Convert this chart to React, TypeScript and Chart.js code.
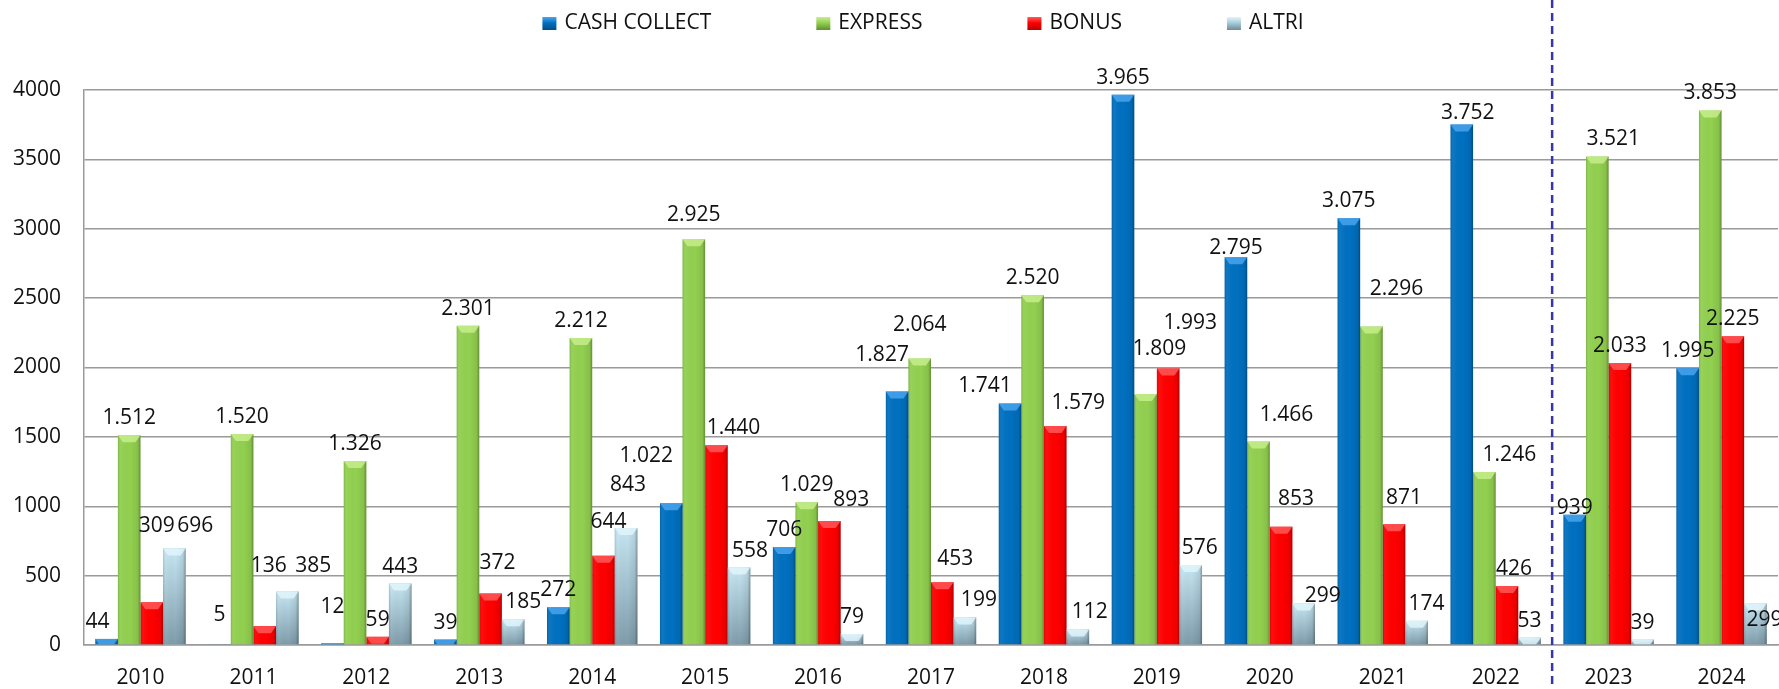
import React, { useEffect, useRef } from 'react';
import { Chart, registerables } from 'chart.js';

Chart.register(...registerables);

const years = ['2010', '2011', '2012', '2013', '2014', '2015', '2016', '2017', '2018', '2019', '2020', '2021', '2022', '2023', '2024'];
const seriesNames = ['CASH COLLECT', 'EXPRESS', 'BONUS', 'ALTRI'];
const cashCollect = [44, 5, 12, 39, 272, 1022, 706, 1827, 1741, 3965, 2795, 3075, 3752, 939, 1995];
const express = [1512, 1520, 1326, 2301, 2212, 2925, 1029, 2064, 2520, 1809, 1466, 2296, 1246, 3521, 3853];
const bonus = [309, 136, 59, 372, 644, 1440, 893, 453, 1579, 1993, 853, 871, 426, 2033, 2225];
const altri = [696, 385, 443, 185, 843, 558, 79, 199, 112, 576, 299, 174, 53, 39, 299];
const yMin = 0;
const yMax = 4000;
const yStep = 500;
const separatorBeforeIndex = 13; // dashed line between 2022 and 2023

// Label nudges (px) reproducing the hand-placed value labels of the original: "series:index" -> [dx, dy]
const labelNudges: Record<string, [number, number]> = {
  '0:0': [-9, 0], '2:0': [5, -59], '3:0': [21, -5],
  '0:1': [0, -12], '2:1': [4, -43], '3:1': [26, -9],
  '0:2': [0, -19],
  '2:3': [7, -13], '3:3': [10, 0],
  '2:4': [5, -17], '3:4': [2, -26],
  '0:5': [-25, -30], '1:5': [0, -7], '2:5': [17, 0], '3:5': [11, 0],
  '2:6': [22, -4],
  '0:7': [-15, -20], '1:7': [0, -17], '2:7': [13, -6], '3:7': [14, 0],
  '0:8': [-25, 0], '2:8': [23, -6], '3:8': [12, 0],
  '1:9': [14, -28], '2:9': [22, -28], '3:9': [9, 0],
  '0:10': [0, 8], '1:10': [28, -10], '2:10': [15, -11], '3:10': [19, 9],
  '1:11': [25, -20], '2:11': [10, -9], '3:11': [10, 0],
  '0:12': [6, 6], '1:12': [25, 0], '2:12': [7, 0],
  '0:13': [0, 10], '1:13': [16, 0],
  '3:14': [9, 33],
};

const FONT = "'Open Sans', 'Noto Sans', sans-serif";
const FONT_SIZE = 21;
const TEXT_COLOR = '#111111';

const palette = [
  { base: '#0070C0', light: '#4DA6F0', edge: '#004C86', top: '', bottom: '' },
  { base: '#92D050', light: '#C9F08E', edge: '#5F8F2E', top: '', bottom: '' },
  { base: '#FF0000', light: '#FF5C5C', edge: '#B80000', top: '', bottom: '' },
  { base: '#A9CBD9', light: '#E2F5FB', edge: '#6E8C9A', top: '#C6E7F3', bottom: '#7F9CAB' },
];

function fmt(v: number): string {
  return String(v).replace(/\B(?=(\d{3})+(?!\d))/g, '.');
}

const barShadePlugin = {
  id: 'barShade',
  afterDatasetsDraw(chart: any) {
    const ctx: CanvasRenderingContext2D = chart.ctx;
    chart.data.datasets.forEach((ds: any, di: number) => {
      const meta = chart.getDatasetMeta(di);
      const pal = palette[di];
      meta.data.forEach((bar: any) => {
        const { x, y, base, width } = bar.getProps(['x', 'y', 'base', 'width'], true);
        const l = x - width / 2;
        const r = x + width / 2;
        const t = Math.min(y, base);
        const b = Math.max(y, base);
        const h = b - t;
        if (h <= 0.2) return;
        ctx.save();
        if (pal.top) {
          const vg = ctx.createLinearGradient(0, t, 0, b);
          vg.addColorStop(0, pal.top);
          vg.addColorStop(1, pal.bottom);
          ctx.fillStyle = vg;
          ctx.fillRect(l, t, width, h);
        }
        const g = ctx.createLinearGradient(l, 0, r, 0);
        g.addColorStop(0, 'rgba(0,0,0,0.14)');
        g.addColorStop(0.12, 'rgba(255,255,255,0.05)');
        g.addColorStop(0.55, 'rgba(0,0,0,0)');
        g.addColorStop(0.88, 'rgba(0,0,0,0.08)');
        g.addColorStop(1, 'rgba(0,0,0,0.32)');
        ctx.fillStyle = g;
        ctx.fillRect(l, t, width, h);
        const bh = Math.min(7, h);
        const inset = Math.min(5, width / 4) * (bh / 7);
        ctx.beginPath();
        ctx.moveTo(l, t);
        ctx.lineTo(r, t);
        ctx.lineTo(r - inset, t + bh);
        ctx.lineTo(l + inset, t + bh);
        ctx.closePath();
        ctx.fillStyle = pal.light;
        ctx.globalAlpha = 0.8;
        ctx.fill();
        ctx.restore();
      });
    });
    // value labels
    ctx.save();
    ctx.font = `${FONT_SIZE}px ${FONT}`;
    ctx.fillStyle = TEXT_COLOR;
    ctx.textAlign = 'center';
    ctx.textBaseline = 'alphabetic';
    chart.data.datasets.forEach((ds: any, di: number) => {
      const meta = chart.getDatasetMeta(di);
      meta.data.forEach((bar: any, i: number) => {
        const { x, y } = bar.getProps(['x', 'y'], true);
        const [dx, dy] = labelNudges[`${di}:${i}`] || [0, 0];
        ctx.fillText(fmt(ds.data[i]), x + dx, y - 11 + dy);
      });
    });
    ctx.restore();
  },
  afterDraw(chart: any) {
    const ctx: CanvasRenderingContext2D = chart.ctx;
    const xs = chart.scales.x;
    const area = chart.chartArea;
    // dashed separator
    const sx = (xs.getPixelForValue(separatorBeforeIndex - 1) + xs.getPixelForValue(separatorBeforeIndex)) / 2;
    ctx.save();
    ctx.strokeStyle = '#3636A6';
    ctx.lineWidth = 2.5;
    ctx.setLineDash([8, 5]);
    ctx.beginPath();
    ctx.moveTo(sx, 0);
    ctx.lineTo(sx, chart.height - 4);
    ctx.stroke();
    ctx.restore();
    // legend
    ctx.save();
    ctx.font = `${FONT_SIZE}px ${FONT}`;
    ctx.textBaseline = 'middle';
    ctx.textAlign = 'left';
    const boxW = 14;
    const boxH = 13;
    const gapBox = 8;
    const gapItem = 105;
    const widths = seriesNames.map((n) => boxW + gapBox + ctx.measureText(n).width);
    const total = widths.reduce((a, b) => a + b, 0) + gapItem * (seriesNames.length - 1);
    let cx = (area.left + area.right) / 2 - 8 - total / 2;
    const cy = 23.5;
    seriesNames.forEach((n, i) => {
      const pal = palette[i];
      const bg = ctx.createLinearGradient(0, cy - boxH / 2, 0, cy + boxH / 2);
      bg.addColorStop(0, pal.light);
      bg.addColorStop(0.45, pal.base);
      bg.addColorStop(1, pal.edge);
      ctx.fillStyle = bg;
      ctx.fillRect(cx, cy - boxH / 2, boxW, boxH);
      ctx.fillStyle = TEXT_COLOR;
      ctx.fillText(n, cx + boxW + gapBox, cy);
      cx += widths[i] + gapItem;
    });
    ctx.restore();
  },
};

export default function App() {
  const canvasRef = useRef<HTMLCanvasElement | null>(null);

  useEffect(() => {
    document.body.style.margin = '0';
    const canvas = canvasRef.current;
    if (!canvas) return;
    Chart.defaults.font.family = FONT;
    Chart.defaults.font.size = FONT_SIZE;
    Chart.defaults.color = TEXT_COLOR;
    const seriesValues = [cashCollect, express, bonus, altri];
    const chart = new Chart(canvas, {
      type: 'bar',
      data: {
        labels: years,
        datasets: seriesNames.map((name, i) => ({
          label: name,
          data: seriesValues[i],
          backgroundColor: palette[i].base,
          borderWidth: 0,
          categoryPercentage: 0.8,
          barPercentage: 1.0,
        })),
      },
      options: {
        responsive: false,
        animation: false,
        layout: { padding: { top: 90, left: 0, right: 1, bottom: 0 } },
        plugins: {
          legend: { display: false },
          tooltip: { enabled: false },
          title: { display: false },
        },
        scales: {
          x: {
            grid: { display: false, drawTicks: false },
            border: { display: true, color: '#9A9A9A', width: 1.5 },
            ticks: { padding: 20, font: { size: FONT_SIZE, family: FONT }, color: TEXT_COLOR, maxRotation: 0, autoSkip: false },
            afterFit: (scale: any) => { scale.height = 44; },
          },
          y: {
            min: yMin,
            max: yMax,
            grid: { color: '#9A9A9A', lineWidth: 1.5, drawTicks: false },
            border: { display: true, color: '#9A9A9A', width: 1.5 },
            ticks: {
              stepSize: yStep,
              padding: 23,
              font: { size: FONT_SIZE, family: FONT },
              color: TEXT_COLOR,
              callback: (v: any) => String(v),
            },
            afterFit: (scale: any) => { scale.width = 84; },
          },
        },
      },
      plugins: [barShadePlugin],
    });
    return () => chart.destroy();
  }, []);

  return (
    <div style={{ width: 1779, height: 689, background: '#ffffff' }}>
      <canvas ref={canvasRef} width={1779} height={689} style={{ display: 'block' }} />
    </div>
  );
}
